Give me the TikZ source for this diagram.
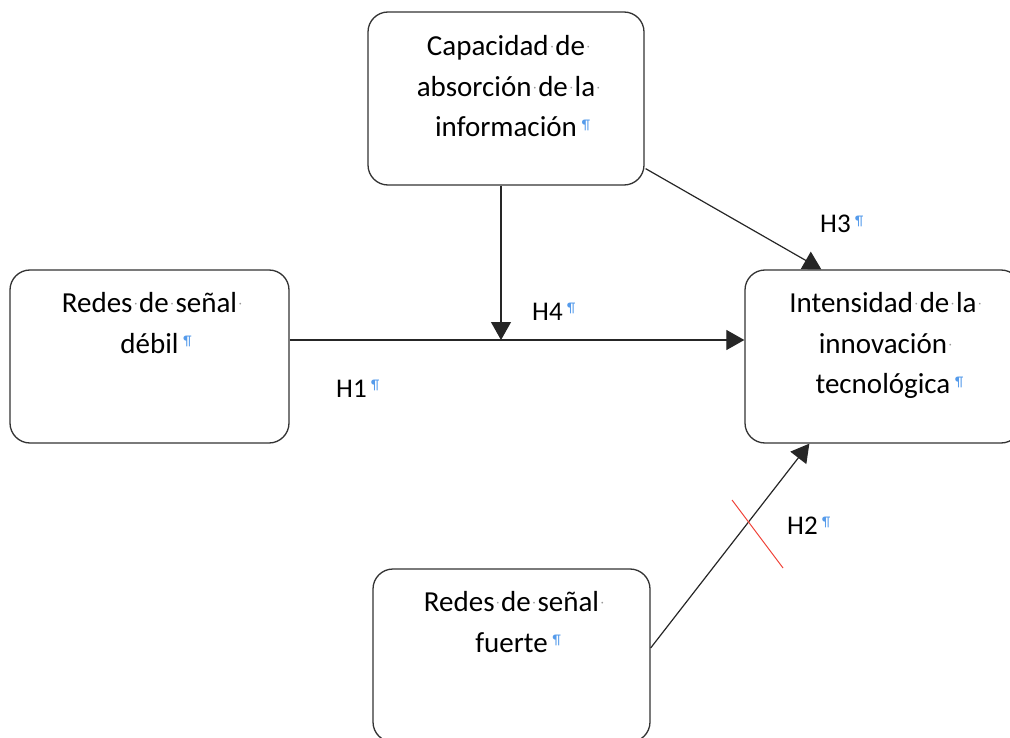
\documentclass[tikz,border=0pt]{standalone}
\usepackage{fontspec}
\setmainfont{Carlito}
\usetikzlibrary{arrows.meta,positioning,calc}

\definecolor{markblue}{RGB}{85,155,235}
\definecolor{markgray}{RGB}{150,150,150}
\definecolor{crossred}{RGB}{240,70,60}

% Word formatting marks: space dot and paragraph mark
\newcommand{\sdot}{\hbox to 0.23em{\hss\raisebox{0.17em}{\color{markgray}\fontsize{12}{12}\selectfont ·}\hss}}
\newcommand{\edot}{\rlap{\sdot}}
\newcommand{\pmark}{\rlap{\,\raisebox{0.26em}{\color{markblue}\fontsize{14}{14}\selectfont ¶}}}

\begin{document}
\begin{tikzpicture}[x=1pt,y=-1pt,
  box/.style={draw=black!80,line width=1.3pt,fill=white,rounded corners=20pt,
    minimum width=276pt,minimum height=173pt,inner sep=0pt},
  boxtext/.style={align=center,inner sep=0pt,font=\fontsize{29}{40.5}\selectfont},
  hyp/.style={inner sep=0pt,anchor=base west,font=\fontsize{27}{27}\selectfont},
  link/.style={draw=black!85,line width=1.2pt,-{Triangle[length=18pt,width=20pt]}}]

\useasboundingbox (0,0) rectangle (1010,738);

\coordinate (mid) at (501,340);

% Draw the four boxes
\node[box] (absorb) at (506,98.5) {};
\node[box,minimum width=279pt] (weak) at (149.5,356.5) {};
\node[box] (tech) at (883,356.5) {};
\node[box,minimum width=277pt] (strong) at (511.5,655.5) {};

% Box texts
\node[boxtext,below=24pt of absorb.north] (absorbtxt)
  {Capacidad\sdot de\edot\\absorción\sdot de\sdot la\edot\\información\pmark};
\node[boxtext,below=23pt of weak.north] (weaktxt)
  {Redes\sdot de\sdot señal\edot\\débil\pmark};
\node[boxtext,below=23pt of tech.north] (techtxt)
  {Intensidad\sdot de\sdot la\edot\\innovación\edot\\tecnológica\pmark};
\node[boxtext,below=23pt of strong.north] (strongtxt)
  {Redes\sdot de\sdot señal\edot\\fuerte\pmark};

% Draw the hypotheses
\draw[link] (weak.east |- mid) -- (tech.west |- mid);
\draw[link] (absorb.south -| mid) -- (mid);
\draw[link] ($(absorb.south east)+(1,-17)$) -- ($(tech.north west)+(77,0)$);
\draw[link] ($(strong.east)+(0,-7.5)$) -- ($(tech.south west)+(65,0)$);

% Red mark across H2
\draw[crossred,line width=1pt] (732,500) -- (783,568);

% Hypothesis labels
\node[hyp] (labh1) at (336,397) {H1\pmark};
\node[hyp] (labh2) at (787,534) {H2\pmark};
\node[hyp] (labh3) at (820,233) {H3\pmark};
\node[hyp] (labh4) at (532,320) {H4\pmark};

\end{tikzpicture}
\end{document}
